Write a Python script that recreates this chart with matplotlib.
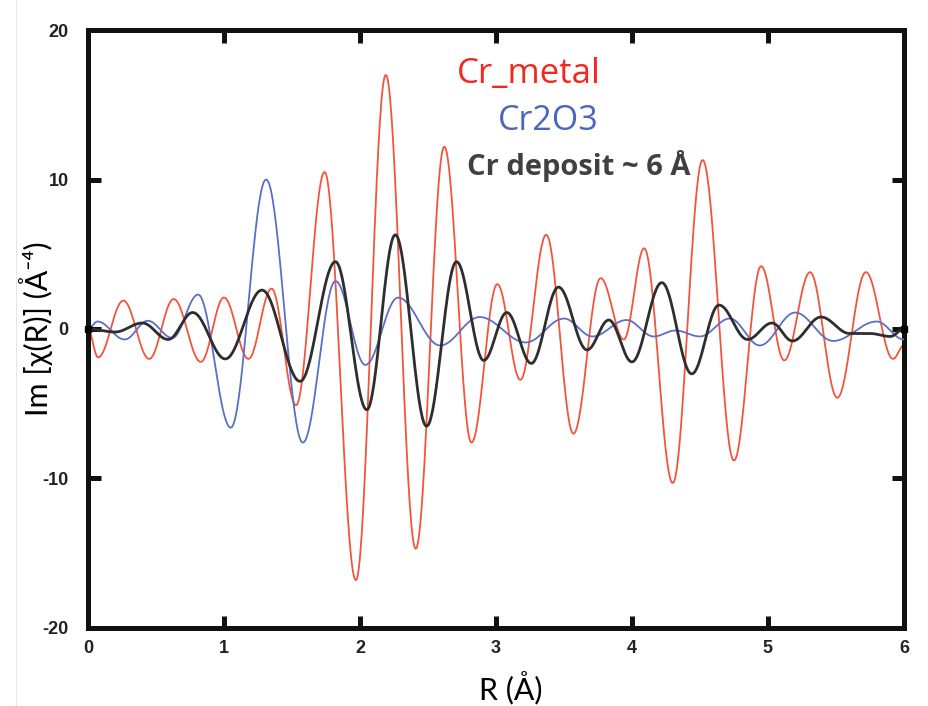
import numpy as np
import matplotlib
matplotlib.use("Agg")
import matplotlib.pyplot as plt
from matplotlib.lines import Line2D

plt.rcParams["axes.unicode_minus"] = False

# Extrema of Im[chi(R)] for each spectrum: R positions (Å) and values (Å^-4)
metal_r = [0.0, 0.074, 0.26, 0.45, 0.63, 0.83, 1.0, 1.18, 1.35, 1.53, 1.74, 1.97,
           2.19, 2.41, 2.62, 2.82, 3.01, 3.18, 3.37, 3.57, 3.77, 3.94, 4.09, 4.30,
           4.52, 4.75, 4.95, 5.12, 5.31, 5.51, 5.72, 5.92, 6.0]
metal_im = [0.0, -1.9, 1.9, -2.0, 2.0, -2.2, 2.1, -2.0, 2.7, -5.1, 10.5, -16.8,
            17.0, -14.7, 12.2, -7.6, 3.0, -3.4, 6.3, -7.0, 3.4, -0.7, 5.4, -10.3,
            11.3, -8.8, 4.2, -2.1, 3.8, -4.6, 3.8, -2.0, -1.1]

oxide_r = [0.0, 0.07, 0.27, 0.44, 0.62, 0.81, 1.05, 1.31, 1.58, 1.82, 2.04, 2.28,
           2.59, 2.88, 3.22, 3.50, 3.71, 3.96, 4.16, 4.32, 4.50, 4.72, 4.94, 5.20,
           5.48, 5.80, 6.0]
oxide_im = [0.0, 0.5, -0.7, 0.55, -0.6, 2.3, -6.6, 10.0, -7.6, 3.2, -2.4, 2.1,
            -1.1, 0.8, -0.9, 0.7, -0.5, 0.6, -0.5, -0.1, -0.5, 0.7, -1.1, 1.1,
            -0.8, 0.5, -0.7]

deposit_r = [0.0, 0.2, 0.4, 0.59, 0.77, 1.01, 1.28, 1.56, 1.82, 2.05, 2.26, 2.49,
             2.71, 2.91, 3.08, 3.26, 3.46, 3.67, 3.83, 4.0, 4.22, 4.44, 4.64, 4.85,
             5.03, 5.18, 5.39, 5.6, 5.75, 5.9, 6.0]
deposit_im = [0.0, -0.2, 0.4, -0.7, 1.1, -2.0, 2.6, -3.5, 4.5, -5.4, 6.3, -6.5,
              4.5, -2.1, 1.1, -2.3, 2.8, -1.4, 0.6, -2.2, 3.1, -3.0, 1.6, -0.7,
              0.4, -0.8, 0.8, -0.3, -0.3, -0.5, 0.0]

series_labels = ["Cr_metal", "Cr2O3", "Cr deposit ~ 6 Å"]
x_ticks = [0, 1, 2, 3, 4, 5, 6]
y_ticks = [-20, -10, 0, 10, 20]


def smooth(r, v, n=40):
    """Join successive extrema with half-cosine arcs (zero slope at each extremum)."""
    r = np.asarray(r, float)
    v = np.asarray(v, float)
    xs, ys = [], []
    for i in range(len(r) - 1):
        t = np.linspace(0, 1, n, endpoint=False)
        w = (1 - np.cos(np.pi * t)) / 2
        xs.append(r[i] + (r[i + 1] - r[i]) * t)
        ys.append(v[i] + (v[i + 1] - v[i]) * w)
    xs.append([r[-1]])
    ys.append([v[-1]])
    return np.concatenate(xs), np.concatenate(ys)


fig = plt.figure(figsize=(9.29, 7.06), dpi=100)
ax = fig.add_axes([0.0947, 0.1105, 0.8783, 0.847])

red = "#f2553c"
blue = "#5b6fc6"
dark = "#2e2e2e"

x, y = smooth(metal_r, metal_im)
ax.plot(x, y, color=red, lw=1.3, zorder=2)
x, y = smooth(oxide_r, oxide_im)
ax.plot(x, y, color=blue, lw=1.3, zorder=3)
x, y = smooth(deposit_r, deposit_im)
ax.plot(x, y, color=dark, lw=2.0, zorder=4)
ax.plot([deposit_r[0], deposit_r[-1]], [deposit_im[0], deposit_im[-1]],
        ls="none", marker="s", ms=5, color="black", zorder=5, clip_on=False)

ax.set_xlim(x_ticks[0], x_ticks[-1])
ax.set_ylim(y_ticks[0], y_ticks[-1])
ax.set_xticks(x_ticks)
ax.set_yticks(y_ticks)

for s in ax.spines.values():
    s.set_linewidth(3.6)
    s.set_color("#111111")
ax.tick_params(direction="in", length=9, width=3.6, color="#111111",
               top=True, right=True, labelsize=13)
ax.tick_params(axis="x", pad=9)
ax.tick_params(axis="y", pad=14)
for lab in ax.get_xticklabels():
    lab.set_fontfamily(["Liberation Sans Narrow", "Liberation Sans"])
    lab.set_fontweight("bold")
    lab.set_color("#222222")
for lab in ax.get_yticklabels():
    lab.set_fontfamily("Liberation Sans")
    lab.set_fontweight("bold")
    lab.set_color("#222222")

ax.set_xlabel("R (Å)", fontsize=22, family=["Lato", "DejaVu Sans"], va="center")
ax.xaxis.set_label_coords(0.518, -0.1)
ax.set_ylabel("Im [χ(R)] (Å⁻⁴)", fontsize=22, family=["Lato", "DejaVu Sans"],
              va="center")
ax.yaxis.set_label_coords(-0.064, 0.5)

ax.text(0.540, 0.911, series_labels[0], transform=ax.transAxes, ha="center",
        va="baseline", fontsize=25, color="#f0281e", family="Open Sans")
ax.text(0.564, 0.833, series_labels[1], transform=ax.transAxes, ha="center",
        va="baseline", fontsize=24.5, color="#4a66c0", family="Open Sans")
ax.text(0.601, 0.7575, series_labels[2], transform=ax.transAxes, ha="center",
        va="baseline", fontsize=21, color="#404040", family="Open Sans",
        fontweight="bold")

fig.add_artist(Line2D([0.017, 0.017], [0.0, 1.0], transform=fig.transFigure,
                      color="#e6e6e6", lw=0.8))

fig.savefig("out.png", dpi=100, facecolor="white")
